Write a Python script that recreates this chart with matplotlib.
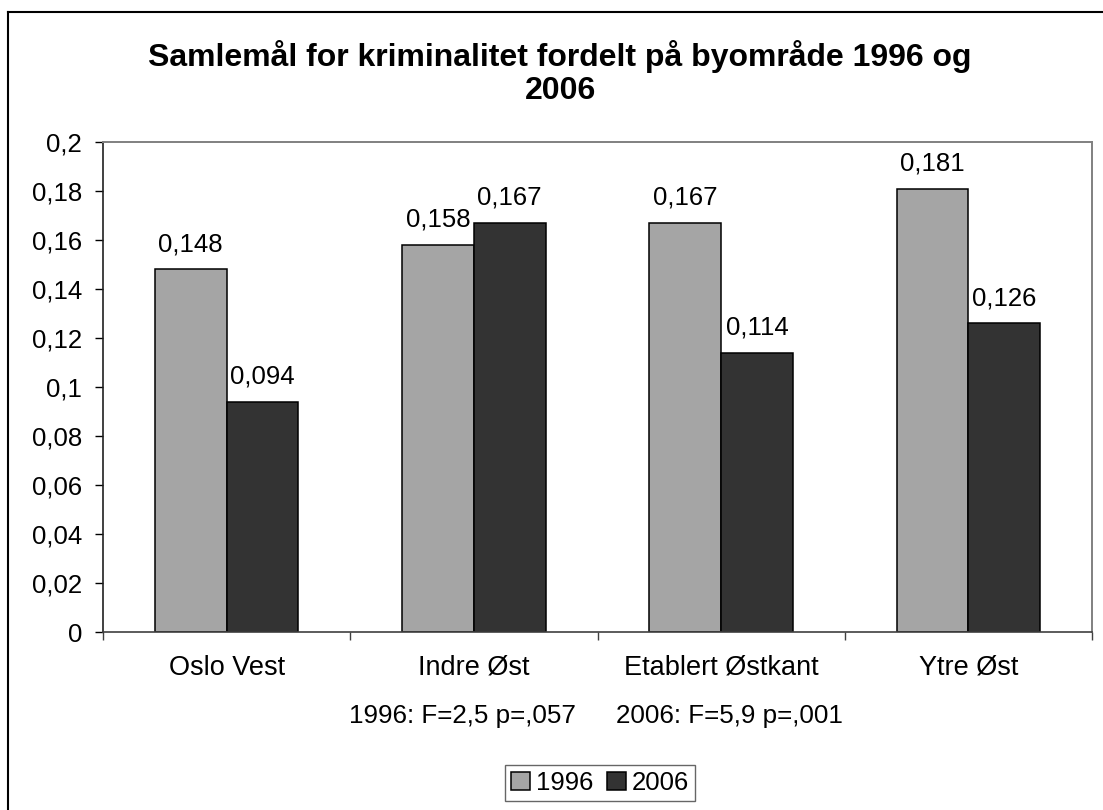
import numpy as np
import matplotlib
matplotlib.use('Agg')
import matplotlib.pyplot as plt
from matplotlib.lines import Line2D

plt.rcParams['font.family'] = ['Liberation Sans', 'DejaVu Sans']

# data
areas = ['Oslo Vest', 'Indre Øst', 'Etablert Østkant', 'Ytre Øst']
vals_1996 = [0.148, 0.158, 0.167, 0.181]
vals_2006 = [0.094, 0.167, 0.114, 0.126]
years = ['1996', '2006']
yticks = [0, 0.02, 0.04, 0.06, 0.08, 0.1, 0.12, 0.14, 0.16, 0.18, 0.2]
stats_1996 = '1996: F=2,5 p=,057'
stats_2006 = '2006: F=5,9 p=,001'
title_lines = ['Samlemål for kriminalitet fordelt på byområde 1996 og', '2006']


def comma(v):
    return f'{round(v, 3):g}'.replace('.', ',')


W, H = 1103, 810
fig = plt.figure(figsize=(W / 100, H / 100), dpi=100)
ax = fig.add_axes([103 / W, 1 - 632 / H, (1092 - 103) / W, (632 - 142) / H])

x = np.arange(len(areas))
w = 0.29
b1 = ax.bar(x - w / 2, vals_1996, w, color='#a5a5a5', edgecolor='black', linewidth=1.1, label=years[0])
b2 = ax.bar(x + w / 2, vals_2006, w, color='#333333', edgecolor='black', linewidth=1.1, label=years[1])

ax.bar_label(b1, labels=[comma(v) for v in vals_1996], padding=9.5, fontsize=18.5)
ax.bar_label(b2, labels=[comma(v) for v in vals_2006], padding=9.5, fontsize=18.5)

ax.set_xlim(-0.5, len(areas) - 0.5)
ax.set_ylim(0, 0.2)
ax.set_yticks(yticks)
ax.set_yticklabels([comma(v) for v in yticks], fontsize=18.5)
ax.tick_params(axis='y', length=6, width=1, pad=9)

# category ticks between groups, labels in the middle
ax.set_xticks(np.arange(len(areas) + 1) - 0.5)
ax.set_xticklabels([])
ax.set_xticks(x, minor=True)
ax.set_xticklabels(areas, minor=True, fontsize=19.5)
ax.tick_params(axis='x', which='major', length=6, width=1, color='#404040')
ax.tick_params(axis='x', which='minor', length=0, pad=16.5)

for s in ['top', 'right']:
    ax.spines[s].set_color('#808080')
    ax.spines[s].set_linewidth(1.4)
ax.spines['left'].set_color('#202020')
ax.spines['left'].set_linewidth(1.2)
ax.spines['bottom'].set_color('#404040')
ax.spines['bottom'].set_linewidth(1.2)

# two-line title
fig.text(560 / W, 1 - 66 / H, title_lines[0], ha='center', va='baseline',
         fontsize=23, fontweight='bold')
fig.text(560 / W, 1 - 99 / H, title_lines[1], ha='center', va='baseline',
         fontsize=23, fontweight='bold')

fig.text(462 / W, 1 - 723 / H, stats_1996, ha='center', va='baseline', fontsize=18.7)
fig.text(729 / W, 1 - 723 / H, stats_2006, ha='center', va='baseline', fontsize=18.7)

leg = fig.legend(loc='center', bbox_to_anchor=(600 / W, 1 - 783 / H), ncol=2,
                 fontsize=18.5, frameon=True, fancybox=False, shadow=False,
                 handlelength=0.75, handleheight=0.7, handletextpad=0.2,
                 columnspacing=0.55, borderpad=0.25)
leg.get_frame().set_edgecolor('#404040')
leg.get_frame().set_linewidth(1.0)

# outer chart border (left and top edges visible)
fig.add_artist(Line2D([8 / W, 8 / W], [0, 1 - 12 / H], transform=fig.transFigure,
                      color='black', linewidth=1.5))
fig.add_artist(Line2D([8 / W, 1], [1 - 12 / H, 1 - 12 / H], transform=fig.transFigure,
                      color='black', linewidth=1.5))

fig.savefig('out.png', dpi=100)
